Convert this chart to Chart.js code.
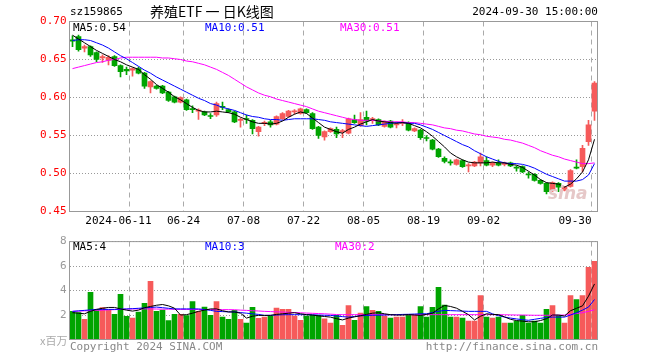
<!DOCTYPE html>
<html>
<head>
<meta charset="utf-8">
<script src="https://cdn.jsdelivr.net/npm/chart.js@4.4.1/dist/chart.umd.min.js"></script>
<style>
  body { margin: 0; background: #fff; }
  #wrap { position: relative; width: 660px; height: 360px; overflow: hidden; font-family: "DejaVu Sans Mono", monospace; }
  canvas { position: absolute; left: 0; }
  #kchart { top: 0; }
  #vchart { top: 232px; }
  .t { position: absolute; white-space: nowrap; font-size: 11px; line-height: 12px; }
</style>
</head>
<body>
<div id="wrap">
  <canvas id="kchart" width="660" height="232" style="width:660px;height:232px"></canvas>
  <canvas id="vchart" width="660" height="128" style="width:660px;height:128px"></canvas>

  <div class="t" style="left:70px;top:6px;color:#000">sz159865</div>
  <div class="t" style="left:150px;top:3px;font-family:'Noto Sans CJK SC';font-size:14px;line-height:16px;color:#000">养殖ETF 一 日K线图</div>
  <div class="t" style="right:62px;top:6px;color:#000">2024-09-30 15:00:00</div>

  <div class="t" style="left:73px;top:22px;color:#000">MA5:0.54</div>
  <div class="t" style="left:205px;top:22px;color:#0000ff">MA10:0.51</div>
  <div class="t" style="left:340px;top:22px;color:#ff00ff">MA30:0.51</div>

  <div class="t" style="left:73px;top:241px;color:#000">MA5:4</div>
  <div class="t" style="left:205px;top:241px;color:#0000ff">MA10:3</div>
  <div class="t" style="left:335px;top:241px;color:#ff00ff">MA30:2</div>

  <div class="t" style="left:40px;top:334px;color:#aaa;font-family:'Noto Sans CJK SC'">x百万</div>
  <div class="t" style="left:70px;top:341px;color:#888">Copyright 2024 SINA.COM</div>
  <div class="t" style="right:62px;top:341px;color:#888">http://finance.sina.com.cn</div>
  <div class="t" style="left:548px;top:183px;color:#e6c8c8;font:italic bold 17px 'DejaVu Sans'">sina</div>
</div>

<script>
// daily candles 2024-05-27 .. 2024-09-30 (index 0..87)
const opens = [
  0.676,0.680,0.665,0.667,0.659,0.652,0.649,0.654,0.642,0.637,
  0.636,0.638,0.632,0.614,0.615,0.615,0.607,0.601,0.594,0.597,
  0.585,0.582,0.581,0.576,0.577,0.588,0.584,0.581,0.570,0.572,
  0.570,0.555,0.566,0.568,0.565,0.572,0.575,0.581,0.579,0.584,
  0.579,0.561,0.548,0.555,0.558,0.555,0.553,0.571,0.563,0.574,
  0.571,0.571,0.562,0.569,0.564,0.566,0.567,0.556,0.557,0.547,
  0.544,0.532,0.520,0.515,0.512,0.517,0.510,0.510,0.514,0.517,
  0.511,0.514,0.512,0.514,0.508,0.509,0.499,0.499,0.491,0.487,
  0.478,0.487,0.478,0.483,0.508,0.509,0.542,0.582
];
const closes = [
  0.674,0.663,0.667,0.656,0.650,0.654,0.653,0.642,0.634,0.635,
  0.638,0.632,0.615,0.621,0.612,0.606,0.596,0.594,0.600,0.584,
  0.584,0.583,0.577,0.575,0.592,0.587,0.581,0.568,0.571,0.571,
  0.559,0.561,0.567,0.564,0.575,0.579,0.582,0.582,0.585,0.580,
  0.559,0.550,0.555,0.559,0.552,0.556,0.572,0.567,0.571,0.569,
  0.572,0.564,0.568,0.561,0.565,0.567,0.557,0.559,0.547,0.546,
  0.532,0.522,0.516,0.514,0.518,0.509,0.511,0.515,0.522,0.511,
  0.514,0.511,0.514,0.510,0.507,0.502,0.498,0.491,0.487,0.476,
  0.488,0.482,0.482,0.504,0.507,0.533,0.564,0.619
];
const highs = [
  0.681,0.682,0.669,0.668,0.660,0.656,0.655,0.655,0.643,0.640,
  0.639,0.640,0.633,0.622,0.616,0.616,0.608,0.602,0.601,0.598,
  0.589,0.585,0.582,0.579,0.594,0.594,0.585,0.582,0.573,0.577,
  0.571,0.562,0.569,0.570,0.576,0.580,0.583,0.584,0.586,0.585,
  0.580,0.562,0.556,0.560,0.561,0.558,0.573,0.577,0.580,0.582,
  0.574,0.572,0.569,0.570,0.568,0.571,0.568,0.560,0.558,0.550,
  0.545,0.533,0.522,0.518,0.519,0.518,0.513,0.516,0.527,0.522,
  0.515,0.518,0.515,0.515,0.510,0.510,0.502,0.500,0.492,0.488,
  0.489,0.488,0.483,0.505,0.518,0.537,0.570,0.621
];
const lows = [
  0.667,0.661,0.660,0.654,0.647,0.646,0.643,0.641,0.627,0.630,
  0.628,0.631,0.612,0.606,0.611,0.605,0.595,0.593,0.593,0.583,
  0.580,0.571,0.576,0.572,0.575,0.584,0.580,0.567,0.561,0.566,
  0.552,0.549,0.563,0.561,0.564,0.571,0.574,0.578,0.578,0.579,
  0.558,0.546,0.544,0.554,0.547,0.547,0.552,0.566,0.562,0.564,
  0.566,0.563,0.561,0.560,0.560,0.563,0.556,0.555,0.545,0.543,
  0.531,0.521,0.514,0.511,0.511,0.508,0.502,0.509,0.510,0.510,
  0.509,0.510,0.510,0.509,0.503,0.501,0.494,0.490,0.486,0.473,
  0.476,0.476,0.477,0.482,0.506,0.502,0.537,0.570
];
// volume, millions
const volumes = [
  2.30,2.20,1.65,3.85,2.40,2.60,2.40,2.05,3.70,1.90,
  1.75,2.25,2.95,4.75,2.30,2.40,1.55,2.05,2.05,1.95,
  3.10,2.30,2.65,1.97,3.10,1.83,1.65,2.38,1.65,1.35,
  2.62,1.73,1.83,1.92,2.56,2.46,2.46,1.92,1.57,1.92,
  1.97,1.97,1.68,1.35,1.97,1.16,2.78,1.57,2.16,2.70,
  2.38,2.30,1.92,1.75,1.83,1.83,1.97,1.97,2.70,1.83,
  2.62,4.27,2.81,1.83,1.83,1.75,1.51,1.51,3.59,1.83,
  1.75,1.83,1.35,1.35,1.51,1.97,1.35,1.51,1.35,2.46,
  2.78,1.97,1.35,3.59,3.27,3.59,5.89,6.38
];
// moving average lines
const ma5 = [
  0.682,0.677,0.672,0.667,0.662,0.658,0.654,0.650,0.647,0.643,
  0.640,0.637,0.630,0.624,0.617,0.612,0.607,0.601,0.597,0.592,
  0.587,0.583,0.581,0.581,0.582,0.581,0.580,0.578,0.574,0.571,
  0.568,0.566,0.566,0.565,0.566,0.569,0.574,0.578,0.581,0.579,
  0.573,0.567,0.561,0.558,0.555,0.553,0.558,0.561,0.565,0.568,
  0.571,0.569,0.568,0.567,0.566,0.567,0.566,0.563,0.560,0.555,
  0.549,0.542,0.535,0.527,0.522,0.518,0.515,0.514,0.514,0.514,
  0.515,0.514,0.514,0.512,0.511,0.508,0.503,0.498,0.492,0.488,
  0.487,0.486,0.482,0.486,0.493,0.502,0.518,0.545
];
const ma10 = [
  0.675,0.676,0.676,0.675,0.672,0.669,0.665,0.660,0.655,0.651,
  0.646,0.641,0.636,0.632,0.627,0.623,0.619,0.615,0.611,0.607,
  0.603,0.599,0.596,0.592,0.590,0.587,0.585,0.583,0.580,0.577,
  0.575,0.574,0.572,0.571,0.571,0.570,0.571,0.572,0.572,0.572,
  0.572,0.571,0.570,0.568,0.567,0.566,0.565,0.564,0.563,0.562,
  0.563,0.564,0.565,0.566,0.567,0.567,0.566,0.566,0.564,0.561,
  0.558,0.554,0.550,0.546,0.542,0.538,0.535,0.530,0.526,0.522,
  0.519,0.516,0.514,0.513,0.513,0.512,0.510,0.507,0.503,0.499,
  0.496,0.493,0.490,0.490,0.490,0.492,0.498,0.513
];
const ma30 = [
  0.638,0.640,0.642,0.644,0.646,0.647,0.649,0.650,0.652,0.653,
  0.653,0.653,0.653,0.653,0.653,0.652,0.652,0.651,0.650,0.648,
  0.647,0.645,0.643,0.640,0.637,0.633,0.629,0.624,0.619,0.614,
  0.610,0.606,0.603,0.601,0.598,0.596,0.594,0.592,0.590,0.588,
  0.585,0.582,0.580,0.578,0.576,0.574,0.572,0.571,0.570,0.570,
  0.570,0.569,0.569,0.568,0.568,0.568,0.567,0.567,0.566,0.565,
  0.564,0.562,0.560,0.559,0.557,0.556,0.554,0.552,0.551,0.549,
  0.548,0.547,0.545,0.544,0.542,0.540,0.537,0.534,0.530,0.527,
  0.524,0.522,0.519,0.517,0.515,0.513,0.513,0.514
];
const vma5 = [
  2.19,2.15,2.10,2.30,2.46,2.55,2.62,2.62,2.50,2.40,
  2.32,2.40,2.60,2.70,2.80,2.86,2.75,2.56,2.00,2.03,
  2.15,2.30,2.40,2.50,2.50,2.35,2.25,2.25,2.15,1.75,
  1.90,1.97,1.97,1.97,2.05,2.10,2.15,2.19,2.10,2.03,
  2.00,1.93,1.88,1.83,1.70,1.60,1.75,1.85,1.95,2.05,
  2.15,2.19,2.10,2.03,2.00,2.00,2.03,2.00,1.97,2.05,
  2.15,2.50,2.78,2.70,2.56,2.30,2.03,1.60,1.90,2.10,
  2.05,2.03,1.85,1.65,1.55,1.50,1.45,1.45,1.55,1.70,
  2.00,2.00,1.92,2.35,2.55,2.75,3.54,4.54
];
const vma10 = [
  2.30,2.34,2.38,2.42,2.46,2.46,2.46,2.46,2.48,2.50,
  2.52,2.55,2.58,2.62,2.65,2.60,2.55,2.50,2.50,2.50,
  2.50,2.50,2.45,2.38,2.30,2.28,2.26,2.25,2.20,2.15,
  2.10,2.05,1.97,1.98,2.00,2.02,2.03,2.03,2.03,2.03,
  2.02,2.00,1.98,1.97,1.92,1.87,1.83,1.88,1.93,1.97,
  1.98,1.99,2.00,2.02,2.03,2.05,2.06,2.08,2.10,2.10,
  2.20,2.30,2.38,2.36,2.34,2.32,2.30,2.30,2.30,2.30,
  2.10,1.95,1.83,1.75,1.68,1.62,1.57,1.65,1.73,1.80,
  1.83,1.83,1.83,2.00,2.19,2.40,2.65,3.27
];
const vma30 = [
  2.30,2.32,2.34,2.36,2.38,2.40,2.42,2.44,2.46,2.48,
  2.50,2.50,2.50,2.50,2.49,2.48,2.48,2.47,2.46,2.46,
  2.46,2.45,2.45,2.45,2.44,2.44,2.44,2.43,2.40,2.38,
  2.35,2.33,2.30,2.28,2.26,2.24,2.22,2.20,2.18,2.16,
  2.14,2.12,2.10,2.07,2.04,2.03,2.03,2.03,2.03,2.03,
  2.03,2.03,2.03,2.03,2.03,2.03,2.03,2.03,2.03,2.03,
  2.03,2.03,2.03,2.03,2.03,2.03,2.03,2.03,2.03,2.03,
  2.03,2.03,2.02,2.01,2.00,2.00,1.99,1.98,1.98,1.98,
  1.98,1.99,2.00,2.05,2.12,2.19,2.30,2.43
];
// date axis: candle index -> label
const tickIdx = [10, 19, 29, 39, 49, 59, 69, 87];
const tickText = ['2024-06-11', '06-24', '07-08', '07-22', '08-05', '08-19', '09-02', '09-30'];
const priceTicks = [0.45, 0.50, 0.55, 0.60, 0.65, 0.70];
const volTicks = [2, 4, 6, 8];

const UP = '#f65a5a';
const DOWN = '#00a400';
const candleColor = opens.map((o, i) => closes[i] >= o ? UP : DOWN);
const mid = i => i + 0.5;

// frame round the plot plus the dashed date lines
const frame = {
  id: 'frame',
  beforeDatasetsDraw(chart) {
    const { ctx, chartArea: a, scales: { x } } = chart;
    ctx.save();
    ctx.strokeStyle = '#aaa';
    ctx.lineWidth = 1;
    ctx.setLineDash([5, 4]);
    tickIdx.forEach(v => {
      const px = x.getPixelForValue(v);
      ctx.beginPath();
      ctx.moveTo(px, a.top);
      ctx.lineTo(px, a.bottom);
      ctx.stroke();
    });
    ctx.restore();
  },
  afterDraw(chart) {
    const { ctx, chartArea: a } = chart;
    ctx.save();
    ctx.strokeStyle = '#999';
    ctx.lineWidth = 1;
    ctx.strokeRect(a.left, a.top, a.right - a.left, a.bottom - a.top);
    ctx.restore();
  }
};

// date labels: the first one (with year) sits to the left of its line,
// the last one is kept inside the frame
const dateLabels = {
  id: 'dateLabels',
  afterDraw(chart) {
    const { ctx, chartArea: a, scales: { x } } = chart;
    ctx.save();
    ctx.font = '11px "DejaVu Sans Mono"';
    ctx.fillStyle = '#000';
    ctx.textBaseline = 'middle';
    tickIdx.forEach((v, i) => {
      const px = x.getPixelForValue(v);
      const w = ctx.measureText(tickText[i]).width;
      let left = i === 0 ? px - w + 22 : px - w / 2;
      left = Math.min(left, a.right - 6 - w);
      ctx.fillText(tickText[i], left, a.bottom + 10);
    });
    ctx.restore();
  }
};

function xScale(height) {
  return {
    type: 'linear',
    min: 0,
    max: 88,
    offset: false,
    afterBuildTicks: s => { s.ticks = tickIdx.map(v => ({ value: v })); },
    afterFit: s => { s.height = height; },
    grid: { display: false, offset: false },
    border: { display: false },
    ticks: { display: false }
  };
}

function lineSet(values, color) {
  return {
    type: 'line',
    data: values.map((v, i) => ({ x: mid(i), y: v })),
    borderColor: color,
    borderWidth: 1,
    pointRadius: 0,
    tension: 0
  };
}

Chart.defaults.animation = false;

new Chart(document.getElementById('kchart'), {
  type: 'bar',
  data: {
    datasets: [
      lineSet(ma5, '#000'),
      lineSet(ma10, '#0000ff'),
      lineSet(ma30, '#ff00ff'),
      {
        data: opens.map((o, i) => ({ x: mid(i), y: [o, closes[i]] })),
        backgroundColor: candleColor,
        barThickness: 5,
        minBarLength: 1,
        grouped: false
      },
      {
        data: lows.map((l, i) => ({ x: mid(i), y: [l, highs[i]] })),
        backgroundColor: candleColor,
        barThickness: 1,
        grouped: false
      }
    ]
  },
  options: {
    responsive: false,
    layout: { padding: { top: 21.5, right: 62.5, left: 0, bottom: 0 } },
    plugins: { legend: { display: false }, tooltip: { enabled: false } },
    scales: {
      x: xScale(20.5),
      y: {
        min: 0.45,
        max: 0.70,
        afterBuildTicks: s => { s.ticks = priceTicks.map(v => ({ value: v })); },
        afterFit: s => { s.width = 69.5; },
        grid: { color: '#999', drawTicks: false },
        border: { display: false, dash: [1, 2] },
        ticks: {
          padding: 3,
          color: '#f00',
          font: { family: 'DejaVu Sans Mono', size: 11 },
          callback: v => v.toFixed(2)
        }
      }
    }
  },
  plugins: [frame, dateLabels]
});

new Chart(document.getElementById('vchart'), {
  type: 'bar',
  data: {
    datasets: [
      lineSet(vma5, '#000'),
      lineSet(vma10, '#0000ff'),
      lineSet(vma30, '#ff00ff'),
      {
        data: volumes.map((v, i) => ({ x: mid(i), y: v })),
        backgroundColor: candleColor,
        barThickness: 5,
        grouped: false
      }
    ]
  },
  options: {
    responsive: false,
    layout: { padding: { top: 8.5, right: 62.5, left: 0, bottom: 0 } },
    plugins: { legend: { display: false }, tooltip: { enabled: false } },
    scales: {
      x: xScale(20.5),
      y: {
        min: 0,
        max: 8,
        afterBuildTicks: s => { s.ticks = volTicks.map(v => ({ value: v })); },
        afterFit: s => { s.width = 69.5; },
        grid: { color: '#999', drawTicks: false },
        border: { display: false, dash: [1, 2] },
        ticks: {
          padding: 3,
          color: '#999',
          font: { family: 'DejaVu Sans Mono', size: 11 }
        }
      }
    }
  },
  plugins: [frame]
});
</script>
</body>
</html>
